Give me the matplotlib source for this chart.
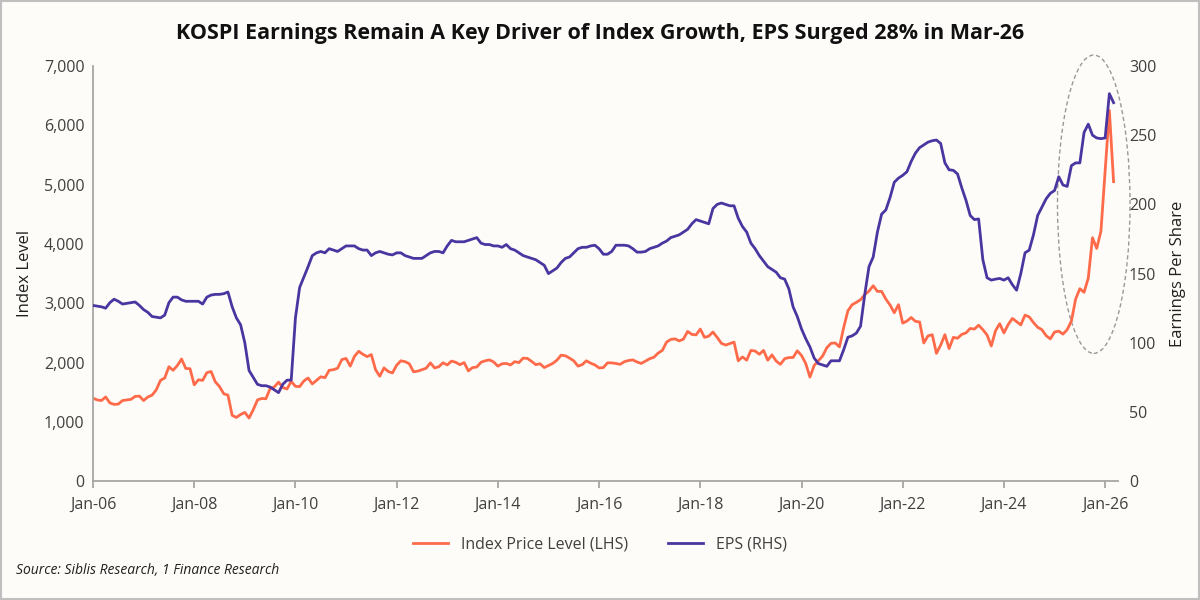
import matplotlib
matplotlib.use("Agg")
import matplotlib.pyplot as plt
from matplotlib.patches import Ellipse
from matplotlib.ticker import FuncFormatter, MultipleLocator

plt.rcParams['font.family'] = ['Open Sans', 'DejaVu Sans']

# Monthly values Jan-2006 .. Mar-2026
kospi = [
 1400,1370,1360,1420,1320,1295,1300,1360,1370,1380,1430,1434,
 1360,1420,1450,1540,1700,1740,1930,1870,1950,2060,1900,1897,
 1625,1710,1700,1830,1850,1675,1595,1475,1450,1110,1075,1125,
 1160,1065,1205,1370,1395,1390,1560,1590,1670,1580,1555,1683,
 1600,1595,1690,1740,1640,1700,1760,1745,1870,1880,1905,2050,
 2070,1940,2105,2190,2140,2100,2135,1880,1770,1910,1850,1825,
 1955,2030,2015,1980,1845,1855,1880,1905,1995,1910,1930,1997,
 1960,2025,2005,1965,2000,1860,1915,1925,2005,2030,2045,2011,
 1940,1980,1985,1960,2015,2000,2075,2070,2020,1965,1980,1916,
 1950,1985,2040,2125,2115,2075,2030,1940,1965,2030,1990,1961,
 1910,1915,1995,1995,1985,1970,2015,2035,2045,2010,1985,2026,
 2065,2090,2160,2205,2345,2390,2400,2365,2395,2525,2475,2467,
 2565,2425,2445,2515,2425,2325,2295,2320,2345,2030,2095,2041,
 2205,2195,2140,2205,2040,2130,2025,1970,2065,2085,2085,2198,
 2120,1985,1755,1950,2030,2110,2250,2325,2330,2265,2590,2873,
 2975,3015,3060,3145,3205,3295,3200,3200,3070,2970,2840,2977,
 2665,2700,2760,2695,2685,2330,2450,2470,2155,2295,2470,2236,
 2425,2410,2475,2500,2575,2565,2630,2555,2465,2280,2535,2655,
 2500,2640,2745,2690,2635,2800,2770,2675,2595,2555,2455,2399,
 2515,2530,2480,2555,2700,3070,3245,3185,3425,4105,3925,4214,
 5220,6250,5050]

eps = [
 127,126.5,126,125,129,131.5,130,128,128.5,129,129.5,127,
 124,122,119,118.5,118,120,129,133,133,131,130,130,
 130,130,128,133,134.5,135,135,135.5,136.7,126,118,113,
 100,80,75,70,69,69,68,66,64,70,73,73,
 118,140,147.5,155,163,165,166,165,168,167,166,168,
 170,170,170,168,167,167,163,165,166,165,164,163.5,
 165,165,163,162,161,161,161,163,165,166,166,165,
 170,174,173,173,173,174,175,176,172,171,171,170,
 170,169,171,168,167,165,163,162,161,160,158,156,
 150,152,154,158,161,162,165,168,169,169,170,170.5,
 168,164,164,166,170.5,170.5,170.5,170,168,165.5,165.5,166,
 168,169,170,172,173.5,176,177,178,180,182,186,189,
 188,187,186,197,200,201,200,199,199,190,184,180,
 172,168,163,159,155,153,151,147,146,139,126,119,
 110,103,97,89,85,84,83,87,87,87,95,104,
 105,107,112,135,155,162,180,193,196,205,216,219,
 221,223.6,231,237,241,243,245,246,246.5,244,230,225,
 224.6,222,212,203,192,189,189.5,160,147,145.3,146,146.5,
 145.3,147,142,138,150,165,167,178,192,198,204,208,
 210,220,214,213,228,230,230,252,258,250,248,247.5,
 248,280,273.5]

tick_labels = ['Jan-06','Jan-08','Jan-10','Jan-12','Jan-14','Jan-16',
               'Jan-18','Jan-20','Jan-22','Jan-24','Jan-26']

bg = '#FDFCF8'
red = '#FF6B4A'
purple = '#4B35A0'
grey = '#A6A6A6'
txt = '#404040'

fig = plt.figure(figsize=(12, 6), dpi=100, facecolor=bg)
ax = fig.add_axes([0.0775, 0.198, 0.854, 0.692], facecolor=bg)
ax2 = ax.twinx()

x = list(range(len(kospi)))
l1, = ax.plot(x, kospi, color=red, lw=2, label='Index Price Level (LHS)')
l2, = ax2.plot(list(range(len(eps))), eps, color=purple, lw=2, label='EPS (RHS)')

ax.set_xlim(0, 243)
ax.set_ylim(0, 7000)
ax2.set_ylim(0, 300)
ax.yaxis.set_major_locator(MultipleLocator(1000))
ax2.yaxis.set_major_locator(MultipleLocator(50))
ax.yaxis.set_major_formatter(FuncFormatter(lambda v, p: f'{int(v):,}'))
ax.set_xticks(range(0, 241, 24))
ax.set_xticklabels(tick_labels)

for a in (ax, ax2):
    for s in ('top', 'right'):
        a.spines[s].set_visible(False)
    a.spines['left'].set_visible(False)
    a.spines['bottom'].set_visible(False)
    a.tick_params(colors=txt, labelsize=11.5)
ax.spines['left'].set_visible(True)
ax.spines['bottom'].set_visible(True)
ax.spines['left'].set_color(grey)
ax.spines['bottom'].set_color(grey)
ax.spines['left'].set_linewidth(1.3)
ax.spines['bottom'].set_linewidth(1.3)
ax.tick_params(axis='y', length=0, pad=6)
ax2.tick_params(axis='y', length=0, pad=8)
ax.tick_params(axis='x', length=5, color=grey, width=1.3, pad=6)

ax.set_ylabel('Index Level', fontsize=12, color='#202020', labelpad=8)
ax2.set_ylabel('Earnings Per Share', fontsize=12, color='#202020', labelpad=10)

ell = Ellipse((237.3, 4670), 17.2, 5030, fill=False, ls=(0, (3, 2)),
              ec='#999999', lw=1, clip_on=False)
ax.add_patch(ell)

fig.text(0.5, 0.945, 'KOSPI Earnings Remain A Key Driver of Index Growth, EPS Surged 28% in Mar-26',
         ha='center', va='center', fontsize=15.5, fontweight='bold', color='#111111')
fig.legend(handles=[l1, l2], loc='center', bbox_to_anchor=(0.5, 0.093), ncol=2,
           frameon=False, fontsize=11.5, handlelength=2.2, columnspacing=2.5,
           labelcolor=txt)
fig.text(0.013, 0.05, 'Source: Siblis Research, 1 Finance Research', fontsize=10,
         style='italic', color='#202020', va='center')

fig.patches.append(plt.Rectangle((0.001, 0.002), 0.998, 0.996, transform=fig.transFigure,
                                 fill=False, ec='#BFBFBF', lw=1.5))
fig.savefig('out.png', dpi=100, facecolor=bg)
